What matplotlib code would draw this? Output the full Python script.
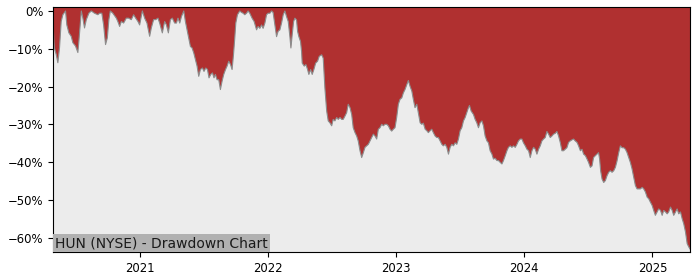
import matplotlib
matplotlib.use("Agg")
import matplotlib.pyplot as plt
from matplotlib.ticker import FuncFormatter, FixedLocator

# Decimal-year positions of the observations
years = [
    2020.324, 2020.334, 2020.349, 2020.362, 2020.375, 2020.388, 2020.401, 2020.422, 2020.432, 2020.448,
    2020.466, 2020.479, 2020.500, 2020.518, 2020.526, 2020.545, 2020.557, 2020.570, 2020.584, 2020.604,
    2020.623, 2020.648, 2020.674, 2020.688, 2020.705, 2020.719, 2020.734, 2020.748, 2020.760, 2020.771,
    2020.791, 2020.818, 2020.830, 2020.844, 2020.857, 2020.875, 2020.896, 2020.914, 2020.935, 2020.953,
    2020.969, 2020.987, 2021.000, 2021.021, 2021.039, 2021.057, 2021.078, 2021.091, 2021.109, 2021.125,
    2021.143, 2021.156, 2021.177, 2021.195, 2021.209, 2021.224, 2021.240, 2021.255, 2021.273, 2021.287,
    2021.299, 2021.313, 2021.326, 2021.344, 2021.357, 2021.370, 2021.383, 2021.396, 2021.409, 2021.422,
    2021.435, 2021.448, 2021.461, 2021.474, 2021.490, 2021.502, 2021.516, 2021.529, 2021.541, 2021.555,
    2021.568, 2021.580, 2021.591, 2021.604, 2021.617, 2021.630, 2021.643, 2021.656, 2021.670, 2021.682,
    2021.695, 2021.709, 2021.721, 2021.732, 2021.742, 2021.750, 2021.763, 2021.781, 2021.795, 2021.807,
    2021.820, 2021.834, 2021.846, 2021.859, 2021.877, 2021.893, 2021.912, 2021.924, 2021.938, 2021.951,
    2021.963, 2021.977, 2021.990, 2022.002, 2022.016, 2022.029, 2022.041, 2022.055, 2022.068, 2022.080,
    2022.094, 2022.107, 2022.120, 2022.133, 2022.146, 2022.159, 2022.172, 2022.180, 2022.190, 2022.201,
    2022.211, 2022.224, 2022.232, 2022.242, 2022.255, 2022.263, 2022.268, 2022.284, 2022.297, 2022.310,
    2022.320, 2022.334, 2022.346, 2022.359, 2022.373, 2022.388, 2022.401, 2022.420, 2022.432, 2022.445,
    2022.459, 2022.471, 2022.484, 2022.498, 2022.510, 2022.523, 2022.537, 2022.549, 2022.563, 2022.576,
    2022.588, 2022.602, 2022.615, 2022.627, 2022.641, 2022.654, 2022.666, 2022.680, 2022.693, 2022.705,
    2022.719, 2022.732, 2022.745, 2022.758, 2022.771, 2022.784, 2022.797, 2022.810, 2022.823, 2022.836,
    2022.849, 2022.862, 2022.875, 2022.888, 2022.901, 2022.914, 2022.927, 2022.940, 2022.953, 2022.966,
    2022.979, 2022.992, 2023.005, 2023.018, 2023.031, 2023.045, 2023.057, 2023.070, 2023.084, 2023.096,
    2023.109, 2023.123, 2023.135, 2023.148, 2023.162, 2023.174, 2023.188, 2023.201, 2023.213, 2023.227,
    2023.240, 2023.252, 2023.266, 2023.279, 2023.291, 2023.305, 2023.318, 2023.330, 2023.344, 2023.357,
    2023.369, 2023.383, 2023.396, 2023.409, 2023.422, 2023.435, 2023.448, 2023.461, 2023.474, 2023.487,
    2023.500, 2023.513, 2023.526, 2023.539, 2023.552, 2023.565, 2023.573, 2023.586, 2023.604, 2023.617,
    2023.630, 2023.643, 2023.656, 2023.670, 2023.682, 2023.695, 2023.709, 2023.721, 2023.734, 2023.748,
    2023.760, 2023.773, 2023.787, 2023.799, 2023.813, 2023.826, 2023.838, 2023.852, 2023.865, 2023.877,
    2023.891, 2023.904, 2023.916, 2023.930, 2023.943, 2023.955, 2023.969, 2023.982, 2023.994, 2024.008,
    2024.021, 2024.034, 2024.047, 2024.060, 2024.073, 2024.086, 2024.099, 2024.112, 2024.125, 2024.138,
    2024.151, 2024.164, 2024.177, 2024.190, 2024.203, 2024.216, 2024.229, 2024.242, 2024.255, 2024.268,
    2024.281, 2024.294, 2024.307, 2024.320, 2024.333, 2024.346, 2024.359, 2024.373, 2024.385, 2024.398,
    2024.412, 2024.424, 2024.438, 2024.451, 2024.463, 2024.477, 2024.490, 2024.502, 2024.516, 2024.529,
    2024.541, 2024.555, 2024.568, 2024.580, 2024.588, 2024.596, 2024.607, 2024.620, 2024.633, 2024.646,
    2024.659, 2024.672, 2024.685, 2024.698, 2024.711, 2024.724, 2024.737, 2024.750, 2024.763, 2024.776,
    2024.789, 2024.802, 2024.815, 2024.828, 2024.841, 2024.854, 2024.867, 2024.880, 2024.893, 2024.906,
    2024.920, 2024.932, 2024.945, 2024.959, 2024.971, 2024.984, 2024.998, 2025.010, 2025.023, 2025.037,
    2025.049, 2025.063, 2025.076, 2025.088, 2025.102, 2025.115, 2025.127, 2025.141, 2025.154, 2025.166,
    2025.180, 2025.193, 2025.205, 2025.219, 2025.232, 2025.244, 2025.258, 2025.271, 2025.284, 2025.293,
]

# Drawdown from running peak, in percent
drawdown = [
    -3.0, -9.7, -11.5, -13.7, -9.7, -2.8, -1.0, 0.0, -3.7, -5.8,
    -6.7, -8.4, -9.3, -11.0, -8.0, 0.0, -1.9, -4.5, -2.3, -0.6,
    0.0, -0.6, -1.0, -0.6, -0.6, -3.7, -8.9, -7.1, -2.3, 0.0,
    -0.6, -1.9, -2.8, -4.1, -2.8, -3.2, -1.9, -1.9, -2.3, -1.0,
    -1.9, -2.8, -3.7, 0.0, -1.9, -3.2, -6.7, -4.5, -2.3, -2.3,
    -1.9, -3.2, -5.8, -2.8, -3.7, -5.8, -2.3, -1.9, -3.2, -3.2,
    -1.9, -3.2, -1.5, 0.0, -2.8, -5.0, -7.2, -9.4, -9.8, -11.1,
    -12.9, -14.6, -17.3, -15.5, -15.1, -16.0, -15.1, -15.5, -17.7, -16.8,
    -16.4, -17.7, -16.8, -18.2, -18.2, -20.8, -18.6, -16.8, -15.5, -14.6,
    -13.3, -14.2, -15.5, -11.6, -7.2, -3.2, -1.0, 0.0, -0.4, -0.6,
    -1.0, -0.6, 0.0, -0.6, -1.9, -2.8, -5.0, -4.1, -4.6, -3.7,
    -4.6, -3.2, -1.0, -0.6, -0.6, 0.0, -0.4, -3.7, -6.8, -5.4,
    -5.0, -3.2, -1.0, 0.0, -1.5, -2.8, -6.8, -9.8, -6.3, -2.8,
    -1.9, -2.4, -5.4, -6.8, -8.1, -10.7, -13.8, -14.6, -14.2, -15.5,
    -16.8, -15.5, -16.8, -15.5, -13.8, -13.3, -12.0, -11.6, -12.5, -20.4,
    -26.5, -29.1, -29.6, -30.4, -28.7, -29.1, -28.2, -28.7, -28.2, -28.7,
    -28.7, -27.8, -26.9, -24.7, -25.6, -27.4, -30.9, -32.2, -33.1, -34.4,
    -37.0, -38.8, -37.5, -36.1, -35.7, -35.3, -34.4, -33.5, -32.6, -33.1,
    -33.9, -31.3, -30.9, -30.0, -30.4, -30.0, -30.0, -30.4, -31.3, -31.8,
    -31.3, -30.9, -28.2, -24.7, -23.4, -23.0, -21.7, -20.8, -19.5, -18.4,
    -19.9, -21.2, -23.4, -25.6, -24.7, -26.9, -29.6, -30.0, -29.7, -31.3,
    -31.7, -32.2, -31.7, -31.3, -32.2, -33.1, -33.5, -33.5, -34.4, -35.3,
    -35.7, -35.3, -36.1, -37.9, -36.1, -35.3, -35.7, -34.9, -35.3, -33.9,
    -31.7, -30.9, -29.1, -28.2, -26.9, -25.6, -25.0, -26.5, -27.4, -28.7,
    -29.6, -30.9, -29.6, -29.1, -30.4, -33.1, -34.4, -34.9, -37.0, -37.9,
    -39.2, -39.0, -39.6, -39.6, -40.1, -40.5, -39.6, -38.3, -37.0, -36.1,
    -35.7, -36.1, -35.7, -36.1, -35.3, -34.4, -33.9, -33.9, -34.9, -35.7,
    -36.6, -37.0, -38.8, -37.0, -36.1, -36.6, -37.9, -36.6, -35.7, -34.4,
    -33.9, -33.5, -31.9, -32.6, -33.5, -33.1, -32.6, -32.4, -31.9, -33.1,
    -34.8, -37.0, -37.0, -36.6, -36.2, -34.8, -34.4, -34.1, -33.9, -34.4,
    -34.8, -35.7, -37.0, -36.6, -37.9, -38.3, -39.2, -40.1, -41.4, -41.0,
    -38.8, -38.3, -37.9, -37.5, -39.2, -42.3, -44.5, -45.4, -44.9, -43.6,
    -42.7, -42.3, -42.7, -42.3, -41.4, -39.7, -37.5, -35.7, -36.2, -36.2,
    -36.6, -37.5, -38.8, -40.1, -41.8, -44.0, -46.2, -47.1, -47.1, -47.1,
    -46.7, -47.1, -47.9, -49.3, -49.7, -50.6, -51.5, -52.8, -54.1, -53.2,
    -52.4, -52.8, -54.1, -52.8, -53.2, -53.7, -53.2, -51.9, -52.8, -54.1,
    -53.2, -52.4, -53.7, -53.2, -55.0, -56.3, -58.5, -61.6, -62.5, -63.0,
]

year_ticks = [2021, 2022, 2023, 2024, 2025]
pct_ticks = [0, -10, -20, -30, -40, -50, -60]
title_text = "HUN (NYSE) - Drawdown Chart"

fig = plt.figure(figsize=(7, 2.8), dpi=100)
ax = fig.add_axes([0.0757, 0.1, 0.9100, 0.875])

ax.set_facecolor("#b03030")
ax.fill_between(years, drawdown, -100, color="#ececec", linewidth=0)
ax.plot(years, drawdown, color="#8c8c8c", linewidth=0.8)

ax.set_xlim(years[0], years[-1])
ax.set_ylim(-63.8, 1.05)

ax.xaxis.set_major_locator(FixedLocator(year_ticks))
ax.xaxis.set_major_formatter(FuncFormatter(lambda v, p: f"{int(round(v))}"))
ax.yaxis.set_major_locator(FixedLocator(pct_ticks))
ax.yaxis.set_major_formatter(
    FuncFormatter(lambda v, p: f"{int(round(v))}%".replace("-", "\u2212"))
)
ax.tick_params(labelsize=8.4)

ax.text(0.0036, 0.0075, title_text, transform=ax.transAxes, ha="left", va="bottom",
        fontsize=10, color="#1a1a1a",
        bbox=dict(boxstyle="square,pad=0.15", facecolor="#b1b1b1", edgecolor="none"))

fig.savefig("out.png", dpi=100)
